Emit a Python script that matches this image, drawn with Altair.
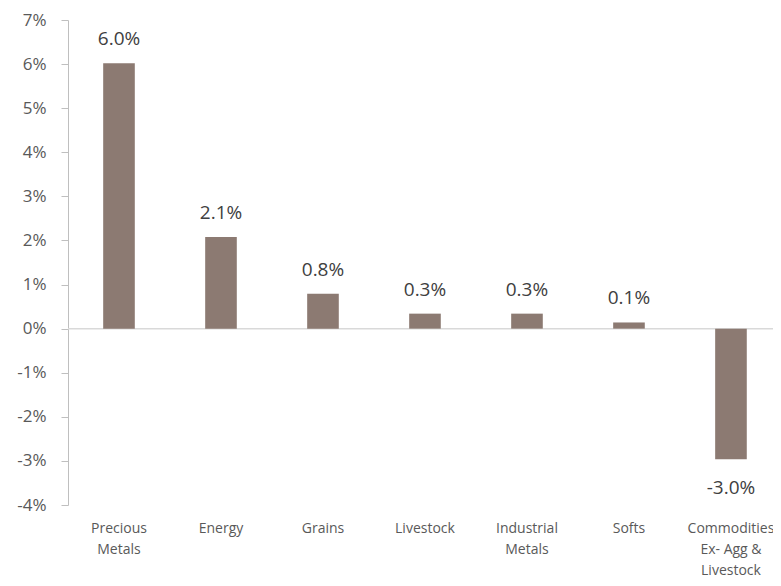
import altair as alt
import pandas as pd

categories = ["Precious\nMetals", "Energy", "Grains", "Livestock", "Industrial\nMetals", "Softs", "Commodities\nEx- Agg &\nLivestock"]
values = [6.02, 2.08, 0.79, 0.34, 0.34, 0.14, -2.96]

df = pd.DataFrame({"cat": categories, "val": values})
df["lbl"] = [f"{v:.1f}%" for v in values]
zero = pd.DataFrame({"z": [0]})

FONT = "Open Sans"
BAR = "#8c7a72"

x = alt.X("cat:N", sort=None, title=None,
          scale=alt.Scale(paddingInner=0.69, paddingOuter=0.301, align=0.573),
          axis=alt.Axis(orient="bottom", domain=False, ticks=False, labelAngle=0,
                        labelExpr="split(datum.value, '\\n')", labelFont=FONT,
                        labelFontSize=14, labelColor="#595959", labelPadding=16,
                        labelLineHeight=21, labelBaseline="top"))
y = alt.Y("val:Q", title=None,
          scale=alt.Scale(domain=[-4, 7], nice=False, zero=False),
          axis=alt.Axis(values=list(range(-4, 8)), labelExpr="datum.value + '%'",
                        grid=False, domainColor="#bfbfbf", tickColor="#bfbfbf",
                        tickSize=7, labelPadding=15, labelFont=FONT, labelFontSize=17,
                        labelColor="#595959"))

base = alt.Chart(df)
bars = base.mark_bar(color=BAR).encode(x=x, y=y)
rule = alt.Chart(zero).mark_rule(color="#d9d9d9", strokeWidth=1.5).encode(y="z:Q")
pos = base.transform_filter("datum.val >= 0").mark_text(
    baseline="bottom", dy=-14, font=FONT, fontSize=19, color="#404040"
).encode(x=x, y=y, text="lbl:N")
neg = base.transform_filter("datum.val < 0").mark_text(
    baseline="top", dy=20, font=FONT, fontSize=19, color="#404040"
).encode(x=x, y=y, text="lbl:N")

chart = alt.layer(rule, bars, pos, neg).properties(
    width=705, height=485,
    autosize=alt.AutoSizeParams(type="none"),
    padding={"left": 60, "top": 12, "right": 0, "bottom": 73},
).configure_view(stroke=None)

chart.save("out.html", embed_options={"renderer": "svg", "actions": False})
